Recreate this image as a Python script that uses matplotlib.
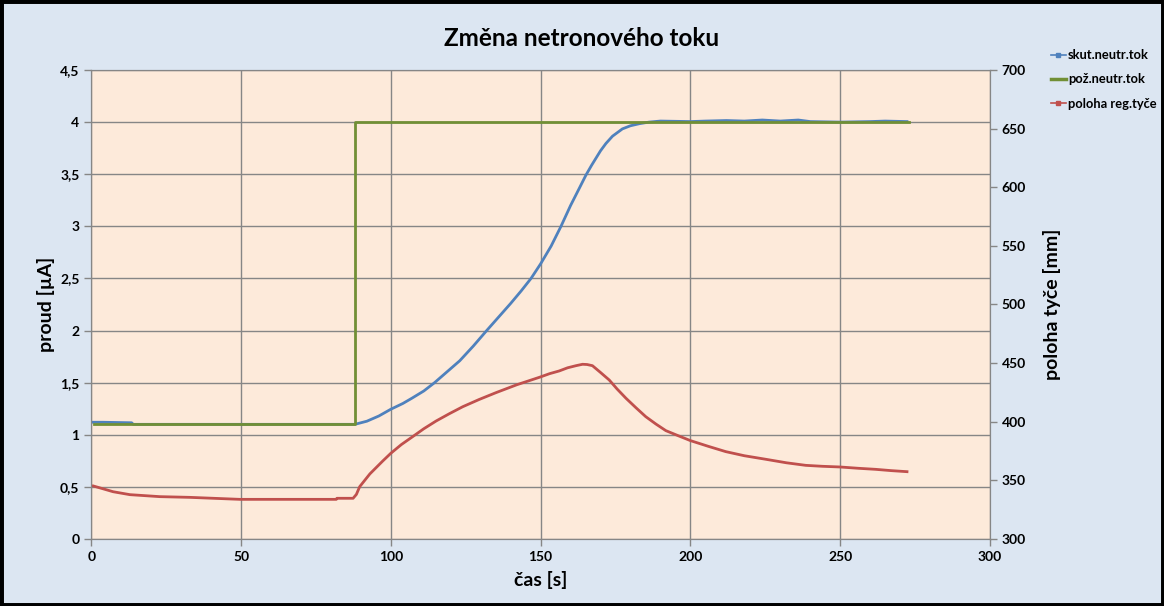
import matplotlib.pyplot as plt
from matplotlib.lines import Line2D
from matplotlib.patches import Rectangle
from matplotlib.ticker import FuncFormatter, MultipleLocator

plt.rcParams['font.family'] = ['Lato', 'DejaVu Sans']

# skutečný neutronový tok [uA]
t_skut = [0.7, 3.8, 13.5, 14, 40, 60, 88, 92, 96, 100, 104, 107, 111, 114.6, 119, 123,
          127.5, 132, 136, 140, 143.5, 146.8, 150, 153.5, 156.8, 160, 163, 165.1, 167,
          168.5, 170, 171.8, 174, 177.3, 180, 183, 186.2, 190, 200, 205, 212, 218, 224,
          230, 236, 240, 250, 260, 265, 272.3]
skut = [1.12, 1.12, 1.115, 1.10, 1.10, 1.10, 1.10, 1.13, 1.18, 1.245, 1.30, 1.35, 1.42,
        1.5, 1.61, 1.71, 1.85, 2.0, 2.13, 2.26, 2.38, 2.5, 2.64, 2.81, 3.0, 3.2, 3.37,
        3.49, 3.585, 3.655, 3.725, 3.795, 3.865, 3.935, 3.965, 3.985, 4.0, 4.01, 4.005,
        4.01, 4.015, 4.01, 4.02, 4.01, 4.02, 4.005, 4.0, 4.005, 4.01, 4.005]

# požadovaný neutronový tok [uA]
t_poz = [1, 88, 88, 273]
poz = [1.1, 1.1, 4.0, 4.0]

# poloha regulační tyče [mm]
t_tyc = [0.7, 7.3, 12.9, 22.9, 32.9, 49.6, 81.8, 82, 87.4, 88.5, 89.6, 93, 97.3, 100,
         103.5, 107.3, 111, 115.1, 119.5, 124, 129.5, 135.1, 142, 149.6, 153, 156.2,
         159, 161.8, 164, 165.5, 167.3, 170, 172.9, 175.5, 178.5, 181.8, 185.1, 188.5,
         191.8, 196, 200, 206, 211.8, 218, 225.1, 232, 238.5, 244, 250, 256, 261.8,
         267, 272.3]
tyc = [345.2, 340.3, 337.8, 336.1, 335.5, 333.8, 333.8, 334.7, 334.7, 338, 344.6, 355.5,
       366.5, 373.1, 380.5, 387.3, 394, 400.6, 406.8, 412.8, 419, 424.8, 431.5, 437.9,
       441, 443.3, 446, 447.8, 449, 448.8, 447.8, 442, 435.6, 428, 420, 412, 404.3,
       398, 392.4, 388, 383.9, 379, 374.5, 371, 368, 365, 362.8, 362, 361.4, 360.3,
       359.4, 358.3, 357.4]

fig = plt.figure(figsize=(11.64, 6.06), dpi=100)
fig.patch.set_facecolor('#DCE6F2')
fig.patches.append(Rectangle((0, 0), 1, 1, transform=fig.transFigure, fill=False,
                             edgecolor='black', linewidth=5))

ax = fig.add_axes([0.0784, 0.1106, 0.7721, 0.7739])
ax.set_facecolor('#FDEADA')
ax2 = ax.twinx()

ax.plot(t_skut, skut, color='#4F81BD', lw=2)
ax.plot(t_poz, poz, color='#718F35', lw=2)
ax2.plot(t_tyc, tyc, color='#C0504D', lw=2)

ax.set_xlim(0, 300)
ax.set_ylim(0, 4.5)
ax2.set_ylim(300, 700)
ax.xaxis.set_major_locator(MultipleLocator(50))
ax.yaxis.set_major_locator(MultipleLocator(0.5))
ax2.yaxis.set_major_locator(MultipleLocator(50))
ax.yaxis.set_major_formatter(FuncFormatter(lambda v, p: f'{v:g}'.replace('.', ',')))

ax.grid(True, color='#868686', lw=1)
ax.set_axisbelow(True)
for a in (ax, ax2):
    for s in a.spines.values():
        s.set_color('#868686')
    a.tick_params(colors='#868686', labelcolor='black', length=5, width=1,
                  labelsize=10)
    for lab in a.get_xticklabels() + a.get_yticklabels():
        lab.set_fontweight('bold')

ax.set_xlabel('čas [s]', fontsize=14, fontweight='bold', labelpad=6)
ax.set_ylabel('proud [µA]', fontsize=14, fontweight='bold', labelpad=4)
ax2.set_ylabel('poloha tyče [mm]', fontsize=14, fontweight='bold', labelpad=12)

fig.text(0.5, 0.937, 'Změna netronového toku', ha='center', va='center',
         fontsize=17.5, fontweight='bold')

handles = [
    Line2D([], [], color='#4F81BD', lw=1.2, marker='s', markersize=2.5),
    Line2D([], [], color='#718F35', lw=2.5),
    Line2D([], [], color='#C0504D', lw=1.2, marker='s', markersize=2.5),
]
labels = ['skut.neutr.tok', 'pož.neutr.tok', 'poloha reg.tyče']
fig.legend(handles, labels, loc='upper left', bbox_to_anchor=(0.8926, 0.938),
           frameon=False, handlelength=1.2, handletextpad=0.15, labelspacing=0.95,
           prop={'size': 9.3, 'weight': 'bold'})

fig.savefig('out.png', dpi=100, facecolor=fig.get_facecolor())
